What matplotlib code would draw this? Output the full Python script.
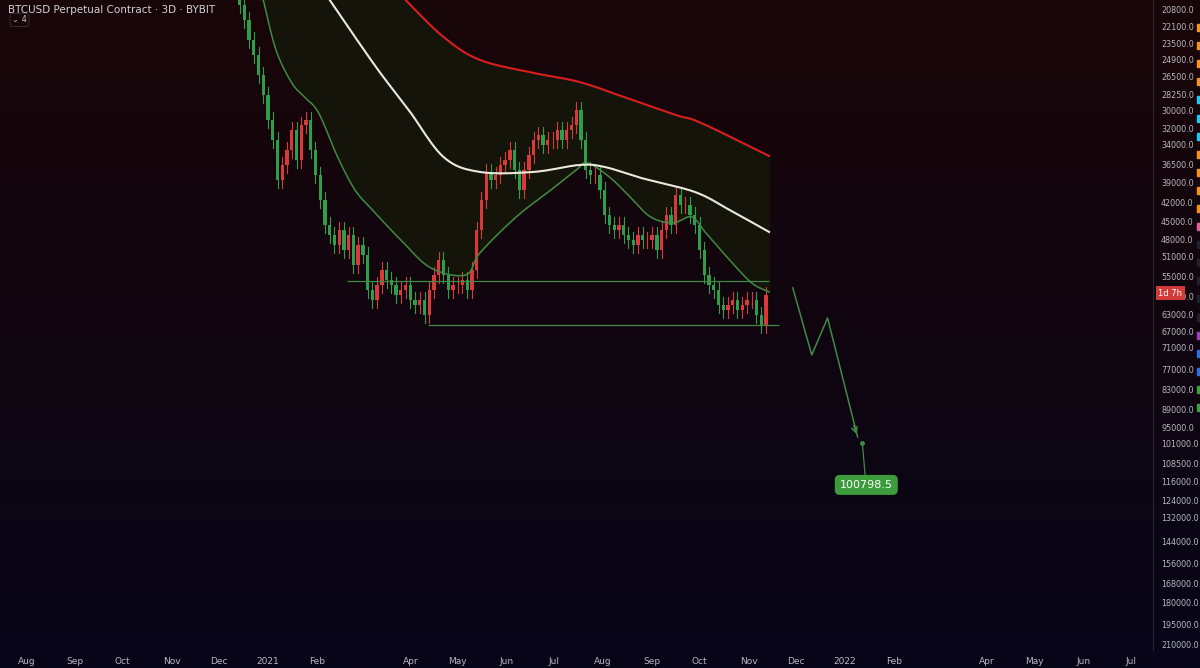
import numpy as np
import pandas as pd
import matplotlib
matplotlib.use("Agg")
import matplotlib.pyplot as plt

base = pd.Timestamp("2021-01-01")
closes = [20420,21570,23200,24500,26350,28350,31050,33400,38630,36580,34630,32200,35920,31620,31050,34630,37930,41550,45510,47200,48950,46350,49850,47200,52650,48950,50770,57670,59810,56630,53620,55600,56630,58730,57670,56630,59810,60910,59810,63170,57670,54600,51700,54600,57670,56630,56630,55600,57670,53620,46350,41550,37520,38630,37930,36580,35920,34630,37250,40060,37250,35270,33400,32800,34010,33400,33400,32200,33400,32200,31620,29940,33400,37250,37930,37930,40060,43880,45510,46350,45510,47200,48070,48950,47200,48070,48070,47200,49850,46350,43880,45510,40800,42310,42310,43880,45510,49850,54600,56630,57670,60910,62030,60910,59810,62030,60910,59810,59810,63170,65510,58730]
first_open = 20000
candle_start = -18  # days from 2021-01-01, 3D candles

green_days = [-6,-3,5,15,23,32,44,55,66,84,103,125,134,157,179,195,202,216,229,242,256,268,277,292,306,317]
green_vals = [18650,20060,24060,27130,28550,30270,35530,40060,43090,48070,53230,54600,50400,44200,40060,37250,36320,38220,41100,44200,45180,44200,46860,51700,56220,58090]
white_days = [30,39,55,71,89,111,134,168,197,213,236,270,292,317]
white_vals = [18650,20060,22950,26160,29940,35530,37520,37520,36580,36850,38350,40360,43090,46690]
red_days = [75,87,111,134,168,197,225,258,274,317]
red_vals = [18650,20060,22950,24950,26160,27040,28550,30490,31390,35400]

upper_level = 55810; upper_span = [50, 317]
lower_level = 65510; lower_span = [101, 323]
proj_days = [332,344,354,373]
proj_vals = [57250,73070,63860,98500]
target_day = 376; target_val = 100798.5

yticks = [20800,22100,23500,24900,26500,28250,30000,32000,34000,36500,39000,42000,45000,48000,51000,55000,59000,63000,67000,71000,77000,83000,89000,95000,101000,108500,116000,124000,132000,144000,156000,168000,180000,195000,210000]


def smooth(xs, ys, k=12):
    """Catmull-Rom curve through the read points (log space)."""
    x = np.asarray(xs, float); y = np.log(np.asarray(ys, float))
    px = np.concatenate([[2 * x[0] - x[1]], x, [2 * x[-1] - x[-2]]])
    py = np.concatenate([[2 * y[0] - y[1]], y, [2 * y[-1] - y[-2]]])
    ox, oy = [], []
    for i in range(1, len(px) - 2):
        t = np.linspace(0, 1, k, endpoint=False)
        for arr, out in ((px, ox), (py, oy)):
            p0, p1, p2, p3 = arr[i - 1], arr[i], arr[i + 1], arr[i + 2]
            out.extend(0.5 * (2 * p1 + (-p0 + p2) * t + (2 * p0 - 5 * p1 + 4 * p2 - p3) * t ** 2
                              + (-p0 + 3 * p1 - 3 * p2 + p3) * t ** 3))
    ox.append(x[-1]); oy.append(y[-1])
    return np.array(ox), np.exp(np.array(oy))


W, H = 1200, 668
fig = plt.figure(figsize=(12, 6.68), dpi=100)
bg = fig.add_axes([0, 0, 1, 1]); bg.axis("off")
top = np.array([0x19, 0x05, 0x08]) / 255; bot = np.array([0x07, 0x06, 0x18]) / 255
t = np.linspace(0, 1, 256)[:, None]
grad = top[None, None, :] * (1 - t[..., None]) + bot[None, None, :] * t[..., None]
bg.imshow(np.repeat(grad, 2, axis=1), aspect="auto", extent=[0, 1, 0, 1])
bg.set_xlim(0, 1); bg.set_ylim(0, 1)

ax = fig.add_axes([0, 18 / H, 1150 / W, 650 / H])
ax.patch.set_alpha(0)
ax.set_xlim(-169.6, 558)
ax.set_yscale("log")
ax.set_ylim(214000, 20060)

gx, gy = smooth(green_days, green_vals)
wx, wy = smooth(white_days, white_vals)
rx, ry = smooth(red_days, red_vals)

grid = np.arange(-6, 317.5, 0.5)
g = np.interp(grid, gx, gy)
r = np.interp(grid, rx, ry, left=20060)
r = np.maximum(r, 20060)
ax.fill_between(grid, r, g, color="#15140a", zorder=1)

n = len(closes)
days = candle_start + 3 * np.arange(n)
opens = [first_open] + closes[:-1]
for d, o, c in zip(days, opens, closes):
    col = "#2e9e4a" if c > o else "#d83a3a"
    hi, lo = max(o, c) * 1.03, min(o, c) / 1.03
    ax.plot([d, d], [lo, hi], color=col, lw=0.8, zorder=3)
    ax.bar(d, abs(c - o) + 1, bottom=min(o, c), width=2.1, color=col, zorder=4, linewidth=0)

ax.plot(gx, gy, color="#3f8a44", lw=1.1, zorder=5)
ax.plot(wx, wy, color="#ece8dc", lw=1.5, zorder=5)
ax.plot(rx, ry, color="#d81e1e", lw=1.5, zorder=5)
ax.hlines(upper_level, *upper_span, color="#3f8a44", lw=0.9, zorder=5)
ax.hlines(lower_level, *lower_span, color="#3f8a44", lw=0.9, zorder=5)

ax.plot(proj_days, proj_vals, color="#3f8a44", lw=1.1, zorder=5)
ax.annotate("", xy=(proj_days[-1], proj_vals[-1]), xytext=(proj_days[-1] - 3, proj_vals[-1] * 0.95),
            arrowprops=dict(arrowstyle="->", color="#3f8a44", lw=1.1))
ax.plot([target_day], [target_val], "o", color="#3f8a44", ms=2.5, zorder=6)
ax.plot([target_day, target_day + 2], [target_val, 115000], color="#3f8a44", lw=0.9, zorder=5)
ax.text(target_day + 2.5, 117300, f"{target_val:.1f}", color="white", fontsize=8, ha="center", va="center",
        bbox=dict(boxstyle="round,pad=0.45", fc="#3c9c3c", ec="none"), zorder=7)

for s in ax.spines.values():
    s.set_visible(False)
ax.yaxis.tick_right()
ax.set_yticks(yticks)
ax.set_yticklabels([f"{v:.1f}" for v in yticks])
ax.yaxis.set_minor_locator(matplotlib.ticker.NullLocator())
ax.tick_params(axis="y", colors="#b8b8c0", labelsize=5.8, length=0, pad=8)
months = pd.date_range("2020-08-01", "2022-07-01", freq="MS")
mpos, mlab = [], []
for m in months:
    if m.month == 3:
        continue
    mpos.append((m - base).days)
    mlab.append(str(m.year) if m.month == 1 else m.strftime("%b"))
ax.set_xticks(mpos)
ax.set_xticklabels(mlab)
ax.tick_params(axis="x", colors="#b8b8c0", labelsize=6.5, length=0, pad=5)
ax.grid(False)

fig.text(1170 / W, 1 - 293 / H, "1d 7h", color="white", fontsize=6, ha="center", va="center", zorder=10,
         bbox=dict(boxstyle="square,pad=0.3", fc="#d23a3a", ec="none"))
fig.add_artist(plt.Line2D([1153 / W, 1153 / W], [18 / H, 1], color="#2a2530", lw=0.8))

strip_cols = ["#f7931a"] * 4 + ["#1ec8f0"] * 3 + ["#f7931a"] * 4 + ["#e060a0"] + ["#202030"] * 5 + ["#a040c0", "#2f6fe0", "#2f6fe0", "#3aa040", "#3aa040"]
for i, c in enumerate(strip_cols):
    yy = 1 - (28 + i * 18.1) / H
    fig.add_artist(plt.Rectangle((1197 / W, yy - 3 / H), 3 / W, 7 / H, color=c))

fig.text(8 / W, 1 - 10 / H, "BTCUSD Perpetual Contract · 3D · BYBIT", color="#d0d0d8", fontsize=7.5, va="center")
fig.text(12 / W, 1 - 20 / H, "⌄ 4", color="#c0c0c8", fontsize=6, va="center",
         bbox=dict(boxstyle="round,pad=0.25", fc="none", ec="#3a3040", lw=0.6))

fig.savefig("out.png", dpi=100)
